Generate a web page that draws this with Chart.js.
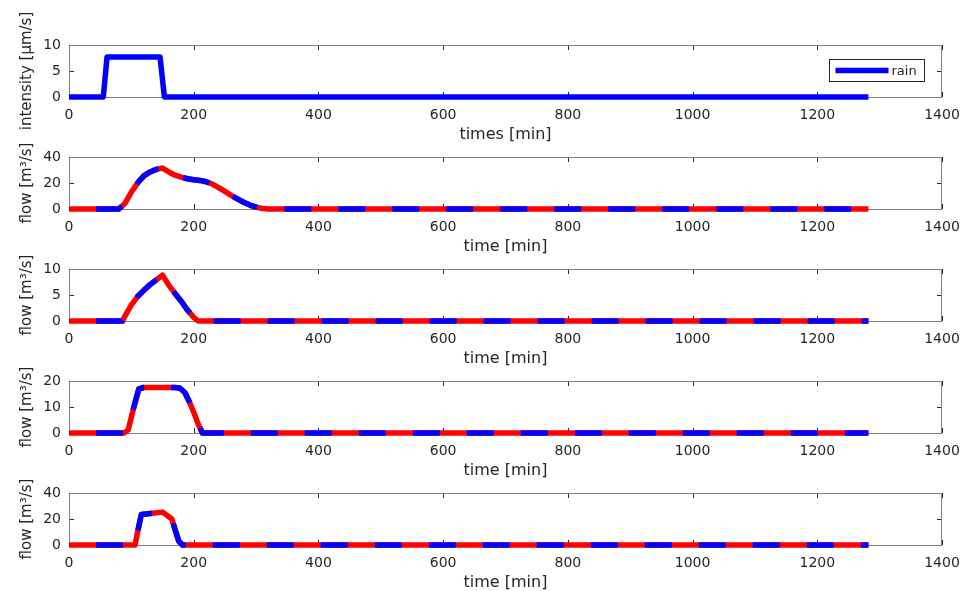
<!DOCTYPE html>
<html>
<head>
<meta charset="utf-8">
<script src="https://cdn.jsdelivr.net/npm/chart.js@4.4.0/dist/chart.umd.min.js"></script>
<style>
  html, body { margin: 0; padding: 0; background: #fff; }
  #wrap { position: relative; width: 962px; height: 591px; overflow: hidden; background: #fff; }
  .panel { position: absolute; left: 0; width: 962px; height: 145px; }
</style>
</head>
<body>
<div id="wrap"></div>
<script>
// 데이터 (시간 [min], 값)
const rainTime = [0, 55, 61, 146, 153, 1282];
const rainValue = [0, 0, 7.7, 7.7, 0, 0];

const flow1Time = [0, 80, 90, 100, 110, 120, 130, 140, 150, 160, 170, 180, 190, 200, 210, 220, 230, 240, 250, 260, 270, 280, 290, 300, 310, 320, 1282];
const flow1Value = [0, 0, 4.5, 13, 20, 25.5, 28.5, 30.5, 31.5, 28.5, 26, 24.5, 23.3, 22.5, 22, 21, 19.2, 16.5, 13.5, 10.5, 7.8, 5.2, 3, 1.4, 0.4, 0, 0];

const flow2Time = [0, 86, 90, 100, 110, 120, 130, 140, 150, 160, 170, 180, 190, 200, 207, 1282];
const flow2Value = [0, 0, 1.0, 3.1, 4.7, 5.9, 7.0, 7.9, 8.8, 6.9, 5.3, 3.8, 2.1, 0.7, 0, 0];

const flow3Time = [0, 88, 95, 104, 112, 120, 170, 178, 186, 193, 200, 207, 214, 1282];
const flow3Value = [0, 0, 1.2, 10, 17, 17.5, 17.5, 17.2, 15.5, 12, 8, 3.5, 0, 0];

const flow4Time = [0, 106, 110, 116, 130, 150, 158, 165, 170, 176, 182, 1282];
const flow4Value = [0, 0, 10, 23.5, 24.2, 25.3, 22.5, 20, 12, 3, 0, 0];

// 축 설정
const xMax = 1400;
const xStep = 200;
const yMaxes = [10, 40, 10, 20, 40];
const ySteps = [5, 20, 5, 10, 20];
const yTitles = ["intensity [μm/s]", "flow [m³/s]", "flow [m³/s]", "flow [m³/s]", "flow [m³/s]"];
const xTitles = ["times [min]", "time [min]", "time [min]", "time [min]", "time [min]"];
const legendLabels = ["rain"];

const seriesTimes = [rainTime, flow1Time, flow2Time, flow3Time, flow4Time];
const seriesValues = [rainValue, flow1Value, flow2Value, flow3Value, flow4Value];

// 각 subplot 의 plot 영역 top 위치
const areaTops = [45, 157, 269, 381, 493];
const padTop = 45;

const textColor = "#262626";
const tickFont = { family: "DejaVu Sans", size: 14 };

// 축 박스와 안쪽 눈금 그리기
const axesBox = {
  id: "axesBox",
  beforeDatasetsDraw(chart) {
    const { ctx, chartArea: a, scales } = chart;
    ctx.save();
    ctx.lineWidth = 1;
    ctx.strokeStyle = textColor;
    ctx.beginPath();
    scales.x.ticks.forEach((t) => {
      const px = Math.round(scales.x.getPixelForValue(t.value)) + 0.5;
      ctx.moveTo(px, a.top);
      ctx.lineTo(px, a.top + 5);
      ctx.moveTo(px, a.bottom);
      ctx.lineTo(px, a.bottom - 5);
    });
    scales.y.ticks.forEach((t) => {
      const py = Math.round(scales.y.getPixelForValue(t.value)) + 0.5;
      ctx.moveTo(a.left, py);
      ctx.lineTo(a.left + 5, py);
      ctx.moveTo(a.right, py);
      ctx.lineTo(a.right - 5, py);
    });
    ctx.stroke();
    ctx.strokeStyle = "#7f7f7f";
    ctx.strokeRect(Math.round(a.left) + 0.5, Math.round(a.top) + 0.5, Math.round(a.width) - 1, Math.round(a.height));
    ctx.restore();
  },
};

// 첫번째 subplot 의 범례 (plot 영역 안쪽)
const legendBox = {
  id: "legendBox",
  afterDatasetsDraw(chart) {
    const ds = chart.data.datasets[0];
    if (!ds.label) return;
    const { ctx, chartArea: a } = chart;
    const w = 95, h = 22;
    const x = Math.round(a.right) - 18 - w + 0.5;
    const y = Math.round(a.top) + 14 + 0.5;
    ctx.save();
    ctx.fillStyle = "#fff";
    ctx.fillRect(x, y, w, h);
    ctx.strokeStyle = textColor;
    ctx.lineWidth = 1;
    ctx.strokeRect(x, y, w, h);
    ctx.strokeStyle = ds.borderColor;
    ctx.lineWidth = ds.borderWidth;
    ctx.beginPath();
    ctx.moveTo(x + 6, y + h / 2);
    ctx.lineTo(x + 59, y + h / 2);
    ctx.stroke();
    ctx.fillStyle = textColor;
    ctx.font = "13px 'DejaVu Sans'";
    ctx.textBaseline = "middle";
    ctx.fillText(ds.label, x + 62, y + h / 2 + 1);
    ctx.restore();
  },
};

const wrap = document.getElementById("wrap");

seriesTimes.forEach((times, index) => {
  const points = times.map((t, i) => ({ x: t, y: seriesValues[index][i] }));

  const div = document.createElement("div");
  div.className = "panel";
  div.style.top = areaTops[index] - padTop + "px";
  div.innerHTML = `<canvas id="chart${index}" width="962" height="145"></canvas>`;
  wrap.appendChild(div);

  const common = {
    data: points,
    pointRadius: 0,
    tension: 0,
    fill: false,
    borderWidth: 5.5,
    borderJoinStyle: "round",
    clip: 10,
  };

  let datasets;
  if (index === 0) {
    datasets = [{ ...common, label: legendLabels[0], borderColor: "#0000ff" }];
  } else {
    datasets = [
      { ...common, borderColor: "#0000ff", borderDash: [27, 27], borderDashOffset: 27, order: 0 },
      { ...common, borderColor: "#ff0000", order: 1 },
    ];
  }

  const ctx = document.getElementById(`chart${index}`).getContext("2d");
  new Chart(ctx, {
    type: "line",
    data: { datasets: datasets },
    plugins: index === 0 ? [axesBox, legendBox] : [axesBox],
    options: {
      responsive: false,
      animation: false,
      devicePixelRatio: 1,
      layout: { padding: { top: padTop, right: 20, left: 0, bottom: 0 } },
      plugins: { legend: { display: false }, tooltip: { enabled: false } },
      scales: {
        x: {
          type: "linear",
          min: 0,
          max: xMax,
          ticks: {
            stepSize: xStep,
            maxRotation: 0,
            autoSkip: false,
            padding: 10,
            color: textColor,
            font: tickFont,
            callback: (value) => String(value),
          },
          grid: { display: false, drawTicks: false },
          border: { display: false },
          title: {
            display: true,
            text: xTitles[index],
            color: textColor,
            font: { family: "DejaVu Sans", size: 16 },
            padding: { top: 0, bottom: 1 },
          },
          afterFit: (scale) => {
            scale.height = 48;
            scale.paddingLeft = 0;
            scale.paddingRight = 0;
          },
        },
        y: {
          min: 0,
          max: yMaxes[index],
          ticks: {
            stepSize: ySteps[index],
            padding: 8,
            color: textColor,
            font: tickFont,
            callback: (value) => String(value),
          },
          grid: { display: false, drawTicks: false },
          border: { display: false },
          title: {
            display: true,
            text: yTitles[index],
            color: textColor,
            font: { family: "DejaVu Sans", size: 15 },
            padding: { top: 18, bottom: 0 },
          },
          afterFit: (scale) => {
            scale.width = 69;
            scale.paddingTop = 0;
            scale.paddingBottom = 0;
          },
        },
      },
    },
  });
});
</script>
</body>
</html>
